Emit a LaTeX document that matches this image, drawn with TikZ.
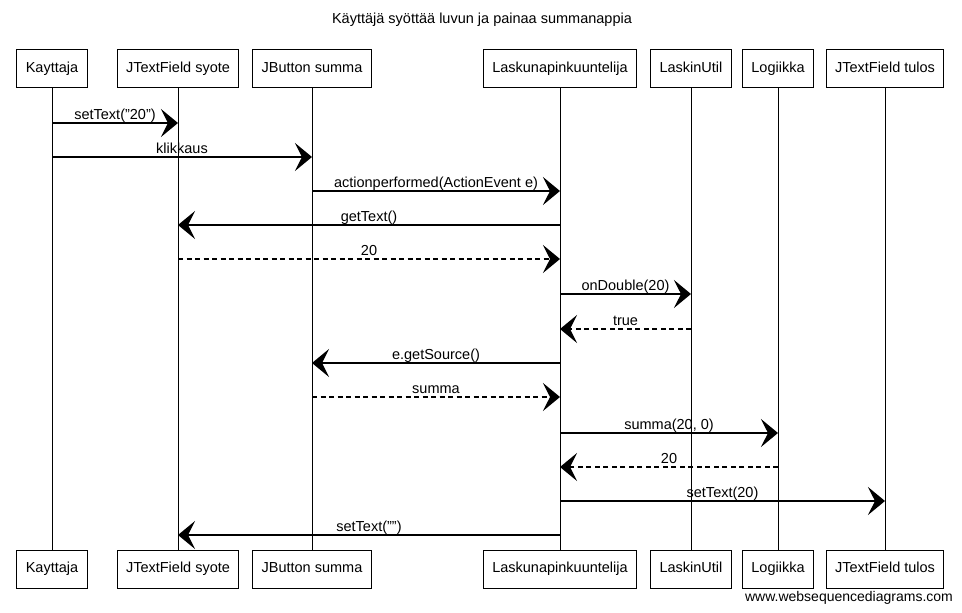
\documentclass[tikz,border=0pt]{standalone}
\usepackage{fontspec}
\setmainfont{Liberation Sans}
\usetikzlibrary{arrows.meta}
\begin{document}
\begin{tikzpicture}[x=1pt,y=-1pt,
  every node/.style={font=\fontsize{14.5}{17}\selectfont},
  actor/.style={draw,line width=1pt,minimum height=38pt,inner xsep=9pt,inner ysep=0pt,fill=white,text height=10.5pt,text depth=3pt},
  life/.style={line width=0.9pt},
  msg/.style={line width=1.3pt,-{Stealth[length=17pt,width=28pt,inset=7pt]}},
  ret/.style={msg,dash pattern=on 5pt off 3.5pt},
  lbl/.style={anchor=base,inner sep=0pt}]
\useasboundingbox (0,0) rectangle (962,613);
\node[inner sep=0pt] (title) at (482,20) {Käyttäjä syöttää luvun ja painaa summanappia};
% participants top
\node[actor] (t1) at (52,68.5) {Kayttaja};
\node[actor] (t2) at (178,68.5) {JTextField syote};
\node[actor] (t3) at (312,68.5) {JButton summa};
\node[actor] (t4) at (560,68.5) {Laskunapinkuuntelija};
\node[actor] (t5) at (691,68.5) {LaskinUtil};
\node[actor] (t6) at (778,68.5) {Logiikka};
\node[actor] (t7) at (885,68.5) {JTextField tulos};
% participants bottom
\node[actor] (b1) at (52,569) {Kayttaja};
\node[actor] (b2) at (178,569) {JTextField syote};
\node[actor] (b3) at (312,569) {JButton summa};
\node[actor] (b4) at (560,569) {Laskunapinkuuntelija};
\node[actor] (b5) at (691,569) {LaskinUtil};
\node[actor] (b6) at (778,569) {Logiikka};
\node[actor] (b7) at (885,569) {JTextField tulos};
% lifelines
\foreach \i in {1,...,7} {\draw[life] (t\i.south) -- (b\i.north);}
% message rows
\foreach \n/\y in {1/123,2/157,3/191,4/225,5/259,6/294,7/329,8/363,9/397,10/433,11/467,12/501,13/535}
  {\coordinate (y\n) at (0,\y);}
\newcommand\mymsg[5]{%
  \draw[#1] (t#2 |- y#4) -- (t#3 |- y#4);
  \path (t#2 |- y#4) -- (t#3 |- y#4) node[lbl,pos=0.5,yshift=4pt] (l#4) {#5};}
\mymsg{msg}{1}{2}{1}{setText("20")}
\mymsg{msg}{1}{3}{2}{klikkaus}
\mymsg{msg}{3}{4}{3}{actionperformed(ActionEvent e)}
\mymsg{msg}{4}{2}{4}{getText()}
\mymsg{ret}{2}{4}{5}{20}
\mymsg{msg}{4}{5}{6}{onDouble(20)}
\mymsg{ret}{5}{4}{7}{true}
\mymsg{msg}{4}{3}{8}{e.getSource()}
\mymsg{ret}{3}{4}{9}{summa}
\mymsg{msg}{4}{6}{10}{summa(20, 0)}
\mymsg{ret}{6}{4}{11}{20}
\mymsg{msg}{4}{7}{12}{setText(20)}
\mymsg{msg}{4}{2}{13}{setText("")}
\node[inner sep=0pt,font=\fontsize{14}{16}\selectfont] (wm) at (849,598) {www.websequencediagrams.com};
\end{tikzpicture}
\end{document}
